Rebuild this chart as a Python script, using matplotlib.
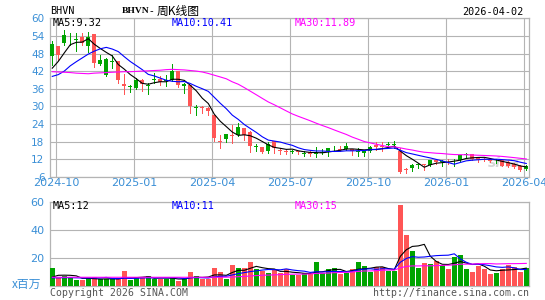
import matplotlib
matplotlib.use("Agg")
import matplotlib.pyplot as plt
import numpy as np
import pandas as pd

# weekly candles, oldest first (week of 2024-09-23 .. week of 2026-03-30)
opens = [47.0, 50.4, 51.6, 52.8, 52.6, 53.5, 50.4, 54.6, 44.5, 40.8,
         45.0, 45.3, 37.6, 36.5, 36.2, 39.1, 36.8, 38.9, 39.4, 38.6,
         39.1, 41.9, 36.9, 37.2, 29.3, 29.6, 29.5, 26.9, 18.3, 19.0,
         20.3, 20.1, 22.5, 21.4, 16.1, 16.1, 14.9, 18.0, 15.1, 14.8,
         14.4, 14.5, 13.9, 14.3, 13.9, 14.0, 14.6, 15.3, 15.5, 15.3,
         15.3, 14.3, 14.2, 14.8, 16.9, 16.5, 16.7, 16.8, 14.8, 8.5,
         8.9, 10.0, 10.2, 10.1, 11.8, 10.9, 11.4, 11.2, 11.8, 13.4,
         13.6, 12.3, 12.0, 11.9, 11.2, 11.6, 10.9, 10.4, 9.6, 8.7]
highs = [52.1, 50.6, 55.9, 55.0, 55.0, 55.0, 55.5, 54.6, 47.4, 46.5,
         47.4, 45.5, 41.0, 37.4, 39.6, 39.3, 38.0, 41.4, 40.2, 40.8,
         44.4, 42.0, 38.0, 37.3, 30.6, 30.0, 29.8, 27.0, 20.3, 20.7,
         23.7, 24.3, 22.6, 21.5, 17.1, 16.2, 17.7, 18.1, 15.8, 15.3,
         15.2, 14.9, 14.9, 14.6, 16.1, 15.5, 15.8, 16.4, 16.4, 17.5,
         15.5, 15.8, 15.2, 16.4, 17.8, 17.8, 17.8, 18.3, 15.8, 8.9,
         10.2, 10.7, 10.2, 11.8, 11.9, 11.7, 12.0, 12.0, 13.5, 14.2,
         13.7, 12.5, 12.5, 12.2, 12.0, 11.8, 11.2, 10.7, 9.9, 10.1]
lows = [44.0, 45.9, 51.0, 51.0, 48.7, 51.0, 48.5, 43.3, 44.0, 40.5,
        43.1, 38.0, 34.3, 34.8, 36.0, 35.1, 34.3, 38.0, 37.1, 36.8,
        38.5, 36.5, 34.5, 27.7, 27.0, 27.7, 27.0, 18.1, 15.8, 17.8,
        17.5, 19.8, 18.6, 14.4, 14.9, 14.1, 14.2, 14.1, 13.9, 13.8,
        14.1, 13.8, 12.9, 13.2, 12.6, 13.8, 12.9, 14.6, 14.9, 15.2,
        13.5, 13.2, 13.2, 14.4, 15.2, 14.6, 16.0, 15.8, 7.3, 7.3,
        7.8, 8.9, 8.3, 9.7, 10.2, 9.7, 10.2, 9.7, 11.4, 12.5,
        11.8, 10.9, 11.2, 11.0, 10.8, 9.6, 9.4, 9.1, 8.1, 8.2]
closes = [51.2, 47.6, 54.2, 53.1, 52.9, 51.6, 53.5, 44.7, 45.9, 46.2,
          45.5, 38.9, 36.8, 36.7, 39.1, 37.6, 37.4, 39.4, 38.4, 39.0,
          41.9, 37.4, 37.5, 30.0, 29.6, 29.3, 28.4, 19.2, 18.0, 20.5,
          20.0, 22.8, 20.1, 16.4, 16.3, 14.4, 17.1, 15.8, 14.8, 14.5,
          14.8, 14.3, 14.1, 13.7, 14.2, 14.4, 15.7, 15.5, 15.2, 16.4,
          14.6, 14.9, 14.6, 16.1, 16.0, 16.2, 16.9, 17.0, 7.6, 8.2,
          10.1, 10.2, 10.0, 11.8, 10.9, 11.1, 11.2, 11.5, 13.5, 13.8,
          12.2, 11.8, 11.7, 11.5, 11.3, 9.8, 9.6, 9.3, 8.4, 9.5]
# volume, millions of shares
volumes = [12.7, 5.1, 7.0, 5.8, 3.9, 3.9, 5.1, 5.8, 4.4, 4.4,
           4.4, 4.4, 10.4, 3.9, 5.1, 5.8, 6.5, 4.8, 4.8, 4.8,
           5.6, 3.3, 4.8, 9.5, 6.5, 4.8, 4.8, 12.2, 9.8, 4.8,
           15.0, 12.6, 12.2, 17.0, 11.7, 10.3, 9.1, 11.0, 8.6, 11.5,
           7.4, 7.4, 8.6, 7.9, 16.6, 8.6, 11.7, 12.6, 8.2, 8.9,
           11.9, 16.7, 14.3, 10.0, 12.9, 12.9, 10.5, 10.5, 57.7, 36.3,
           24.9, 12.4, 16.0, 15.3, 17.4, 14.8, 11.8, 20.3, 21.6, 11.8,
           9.7, 14.0, 12.0, 8.0, 9.0, 11.7, 15.0, 13.5, 9.5, 12.5]

# first points of each moving average need weeks before the window,
# so those are read off the chart; the rest is computed
ma5_head = [43.0, 45.3, 48.2, 51.0]
ma10_head = [40.2, 40.8, 42.0, 43.8, 45.2, 46.5, 47.8, 48.8, 49.6]
ma30_head = [41.8, 41.7, 41.6, 41.5, 41.3, 41.2, 41.1, 41.3, 41.4, 41.5,
             41.6, 41.7, 41.8, 41.8, 41.9, 42.0, 42.1, 42.2, 42.3, 42.5,
             42.6, 42.5, 42.4, 42.2, 42.0, 41.7, 41.2, 40.6, 40.0]
vma5_head = [6.0, 7.3, 7.4, 7.3]
vma10_head = [5.5, 5.5, 5.6, 5.6, 5.5, 5.4, 5.4, 5.4, 5.4]
vma30_head = [5.9] * 29

tick_labels = ["2024-10", "2025-01", "2025-04", "2025-07", "2025-10", "2026-01", "2026-04"]
tick_weeks = [1, 14, 27, 40, 53, 66, 79]

RED = "#ff5555"
GREEN = "#00a400"
GRID = "#b4b4b4"
AXIS_TXT = "#3a8fd6"
MONO = ["DejaVu Sans Mono", "Noto Sans CJK SC"]

W, H = 545, 300


def moving_avg(values, n, head):
    s = pd.Series(values, dtype=float).rolling(n).mean()
    s.iloc[:len(head)] = head
    return s.values


def box(l, t, r, b):
    return [l / W, 1 - b / H, (r - l) / W, (b - t) / H]


def put(x, y, s, **kw):
    fig.text(x / W, 1 - y / H, s, va="center", **kw)


fig = plt.figure(figsize=(W / 100, H / 100), dpi=100)
ax = fig.add_axes(box(50, 18.3, 529, 176.7))
axv = fig.add_axes(box(50, 201.7, 529, 285.5))

x = np.arange(len(closes))
o = np.array(opens)
c = np.array(closes)
up = c >= o
colors = np.where(up, GREEN, RED)

# faint sina mark behind the last candles
ax.text(75.3, 10.6, "sina", fontsize=10, style="italic", weight="bold",
        color="#d6d6d6", ha="center", va="center", zorder=2)

# price panel
ax.vlines(x, lows, highs, colors=colors, linewidth=0.6, antialiased=False, zorder=3)
ax.bar(x, np.maximum(np.abs(c - o), 0.3), bottom=np.minimum(o, c),
       width=0.68, color=colors, linewidth=0, zorder=3)
ax.plot(x, moving_avg(closes, 5, ma5_head), color="black", lw=0.8, zorder=4)
ax.plot(x, moving_avg(closes, 10, ma10_head), color="#0000ff", lw=0.8, zorder=4)
ax.plot(x, moving_avg(closes, 30, ma30_head), color="#ff00ff", lw=0.8, zorder=4)

ax.set_xlim(-0.38, 79.45)
ax.set_ylim(6, 60)
ax.set_yticks(range(6, 61, 6))
ax.set_xticks(np.array(tick_weeks) - 0.33)
ax.set_xticklabels(tick_labels)
ax.grid(color=GRID, lw=0.8)
ax.tick_params(length=0, colors=AXIS_TXT, labelsize=7.5)
ax.tick_params(axis="x", pad=1, labelsize=8)
ax.tick_params(axis="y", pad=4)

# volume panel
axv.bar(x, volumes, width=0.8, color=colors, linewidth=0, zorder=3)
axv.plot(x, moving_avg(volumes, 5, vma5_head), color="black", lw=0.8, zorder=4)
axv.plot(x, moving_avg(volumes, 10, vma10_head), color="#0000ff", lw=0.8, zorder=4)
axv.plot(x, moving_avg(volumes, 30, vma30_head), color="#ff00ff", lw=0.8, zorder=4)
axv.set_xlim(-0.38, 79.45)
axv.set_ylim(0, 60)
axv.set_yticks([20, 40, 60])
axv.set_xticks([])
axv.grid(axis="y", color=GRID, lw=0.8)
axv.tick_params(length=0, colors=AXIS_TXT, labelsize=8, pad=4)

for a in (ax, axv):
    a.set_axisbelow(True)
    for sp in a.spines.values():
        sp.set_color(GRID)
        sp.set_linewidth(0.9)

# header and legends
put(50, 11, "BHVN", fontsize=7.3, family=MONO, ha="left")
put(122, 11, "BHVN", fontsize=6.8, family=["Liberation Serif"], ha="left", weight="bold")
put(151.5, 11, "-", fontsize=7.3, family=["DejaVu Sans"], ha="center")
put(157, 11, "周K线图", fontsize=8.5, family=["Noto Sans CJK SC"], ha="left")
put(523, 12, "2026-04-02", fontsize=7.3, family=MONO, ha="right")

put(53, 23.5, "MA5:9.32", fontsize=7.3, family=MONO, color="black")
put(172, 23.5, "MA10:10.41", fontsize=7.3, family=MONO, color="#0000ff")
put(295, 23.5, "MA30:11.89", fontsize=7.3, family=MONO, color="#ff00ff")

put(53, 206, "MA5:12", fontsize=7.3, family=MONO, color="black")
put(172, 206, "MA10:11", fontsize=7.3, family=MONO, color="#0000ff")
put(295, 206, "MA30:15", fontsize=7.3, family=MONO, color="#ff00ff")

put(12, 284, "x百万", fontsize=8.5, family=["Noto Sans CJK SC"], color=AXIS_TXT, ha="left")
put(50, 292.5, "Copyright 2026 SINA.COM", fontsize=7.1, family=MONO, color="#555555")
put(529, 292.5, "http://finance.sina.com.cn", fontsize=7.1, family=MONO, color="#555555", ha="right")

fig.savefig("out.png", dpi=100)
